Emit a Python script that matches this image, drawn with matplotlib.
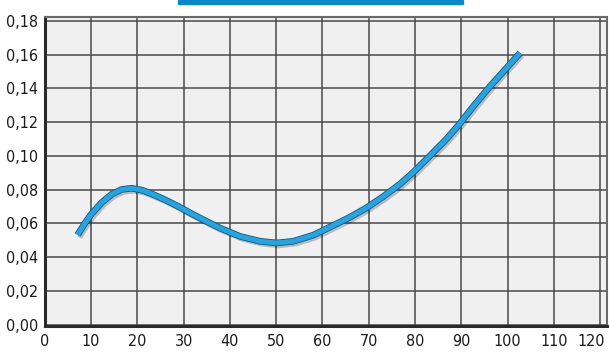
import matplotlib
matplotlib.use("Agg")
import matplotlib.pyplot as plt
import matplotlib.patheffects as pe
import matplotlib.transforms as mtransforms
from matplotlib.patches import Rectangle

# Data
x_vals = [7.1, 8.7, 10.1, 12.3, 14.5, 16.6, 18.8, 21.0, 23.1, 26.0, 28.9, 31.7, 34.8, 37.9, 42.2,
          46.5, 50.1, 53.7, 58.0, 61.6, 65.9, 69.5, 73.1, 76.7, 79.6, 83.2, 86.8, 89.7, 92.6,
          96.2, 99.8, 102.7]
y_vals = [0.0532, 0.0601, 0.0656, 0.0723, 0.0773, 0.0801, 0.0808, 0.0797, 0.0775, 0.0740, 0.0700,
          0.0658, 0.0614, 0.0572, 0.0523, 0.0494, 0.0484, 0.0494, 0.0530, 0.0578, 0.0636, 0.0692,
          0.0758, 0.0832, 0.0902, 0.1000, 0.1100, 0.1192, 0.1294, 0.1412, 0.1522, 0.1610]
x_ticks = [0, 10, 20, 30, 40, 50, 60, 70, 80, 90, 100, 110, 120]
y_ticks = [0.00, 0.02, 0.04, 0.06, 0.08, 0.10, 0.12, 0.14, 0.16, 0.18]
y_tick_labels = ["0,00", "0,02", "0,04", "0,06", "0,08", "0,10", "0,12", "0,14", "0,16", "0,18"]

plt.rcParams['font.family'] = ['DejaVu Sans']
plt.rcParams['font.stretch'] = 'condensed'

fig = plt.figure(figsize=(6.09, 3.52), dpi=100)
ax = fig.add_axes([0.0734, 0.0739, 0.9962 - 0.0734, 0.9517 - 0.0739])
ax.set_facecolor('#f0f0f0')

ax.set_xlim(0, 121.4)
ax.set_ylim(-0.0008, 0.1823)
ax.set_xticks(x_ticks)
ax.set_xticklabels([str(v) for v in x_ticks])
ax.set_yticks(y_ticks)
ax.set_yticklabels(y_tick_labels)
ax.tick_params(length=0, labelsize=11.5, colors='#1a1a1a')
ax.tick_params(axis='x', pad=6)
ax.tick_params(axis='y', pad=5)

for lab in ax.get_xticklabels() + ax.get_yticklabels():
    lab.set_fontstretch('condensed')

last = ax.get_xticklabels()[-1]
last.set_horizontalalignment('right')
last.set_transform(last.get_transform() + mtransforms.ScaledTranslation(5 / 100, 0, fig.dpi_scale_trans))

ax.grid(True, color='#4a4a4a', linewidth=1.1)
ax.set_axisbelow(True)

for s in ['left', 'bottom']:
    ax.spines[s].set_color('#2a2a2a')
    ax.spines[s].set_linewidth(2.2)
for s in ['top', 'right']:
    ax.spines[s].set_color('#6a6a6a')
    ax.spines[s].set_linewidth(1.5)

ax.plot(x_vals, y_vals, color='#2aa2dc', linewidth=3.6, solid_capstyle='butt',
        solid_joinstyle='round', zorder=5,
        path_effects=[pe.SimpleLineShadow(offset=(1.5, -2), shadow_color='black', alpha=0.22, rho=1),
                      pe.Stroke(linewidth=4.8, foreground='#0b5a88'),
                      pe.Normal()])

fig.patches.append(Rectangle((178 / 609, 1 - 4 / 352), (463 - 178) / 609, 4 / 352,
                             transform=fig.transFigure, color='#0a88c8', zorder=10))

fig.savefig('out.png', dpi=100)
